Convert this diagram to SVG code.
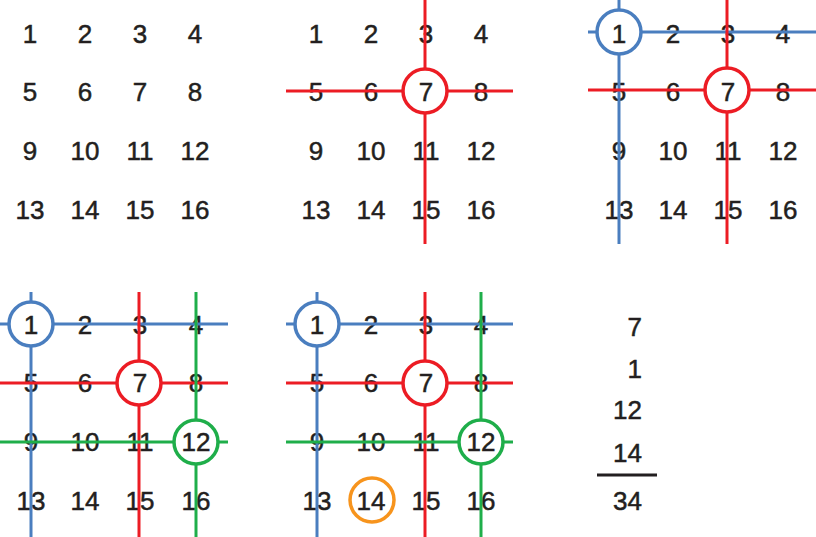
<svg xmlns="http://www.w3.org/2000/svg" width="816" height="537" viewBox="0 0 816 537">
<style>
text{font-family:"Liberation Sans",Arial,sans-serif;font-size:26px;fill:#231f20;stroke:#231f20;stroke-width:0.5;text-anchor:middle}
.b{stroke:#4a7ebf}.r{stroke:#ec1c24}.g{stroke:#1fae4a}.o{stroke:#f7941d}
line{stroke-width:3}
circle{fill:#fff;stroke-width:3.5}
.sum{text-anchor:end}
</style>
<rect width="816" height="537" fill="#fff"/>
<g id="grid1">
<text x="30" y="42.5">1</text><text x="85" y="42.5">2</text><text x="140" y="42.5">3</text><text x="195" y="42.5">4</text>
<text x="30" y="101.3">5</text><text x="85" y="101.3">6</text><text x="140" y="101.3">7</text><text x="195" y="101.3">8</text>
<text x="30" y="160">9</text><text x="85" y="160">10</text><text x="140" y="160">11</text><text x="195" y="160">12</text>
<text x="30" y="219">13</text><text x="85" y="219">14</text><text x="140" y="219">15</text><text x="195" y="219">16</text>
</g>
<g id="grid2">
<text x="316" y="42.5">1</text><text x="371" y="42.5">2</text><text x="426" y="42.5">3</text><text x="481" y="42.5">4</text>
<text x="316" y="101.3">5</text><text x="371" y="101.3">6</text><text x="481" y="101.3">8</text>
<text x="316" y="160">9</text><text x="371" y="160">10</text><text x="426" y="160">11</text><text x="481" y="160">12</text>
<text x="316" y="219">13</text><text x="371" y="219">14</text><text x="426" y="219">15</text><text x="481" y="219">16</text>
<g id="grid2-lines">
<line class="r" x1="286" y1="91" x2="513" y2="91"/><line class="r" x1="425" y1="0" x2="425" y2="244"/>
</g>
<g id="grid2-n7"><circle class="r" cx="425" cy="91" r="22"/><text x="426" y="101.3">7</text></g>
</g>
<g id="grid3">
<text x="673" y="42.5">2</text><text x="728" y="42.5">3</text><text x="783" y="42.5">4</text>
<text x="619" y="101.3">5</text><text x="673" y="101.3">6</text><text x="783" y="101.3">8</text>
<text x="619" y="160">9</text><text x="673" y="160">10</text><text x="728" y="160">11</text><text x="783" y="160">12</text>
<text x="619" y="219">13</text><text x="673" y="219">14</text><text x="728" y="219">15</text><text x="783" y="219">16</text>
<g id="grid3-lines">
<line class="b" x1="588" y1="32" x2="816" y2="32"/><line class="b" x1="619" y1="0" x2="619" y2="244"/>
<line class="r" x1="588" y1="90" x2="816" y2="90"/><line class="r" x1="727" y1="0" x2="727" y2="244"/>
</g>
<g id="grid3-n1"><circle class="b" cx="619" cy="32" r="22"/><text x="619" y="42.5">1</text></g>
<g id="grid3-n7"><circle class="r" cx="727" cy="90" r="22"/><text x="728" y="101.3">7</text></g>
</g>
<g id="grid4">
<text x="85" y="333.5">2</text><text x="140" y="333.5">3</text><text x="196" y="333.5">4</text>
<text x="31" y="392.3">5</text><text x="85" y="392.3">6</text><text x="196" y="392.3">8</text>
<text x="31" y="451">9</text><text x="85" y="451">10</text><text x="140" y="451">11</text>
<text x="31" y="510">13</text><text x="85" y="510">14</text><text x="140" y="510">15</text><text x="196" y="510">16</text>
<g id="grid4-lines">
<line class="b" x1="0" y1="324" x2="228" y2="324"/><line class="b" x1="31" y1="292" x2="31" y2="537"/>
<line class="r" x1="0" y1="383" x2="228" y2="383"/><line class="r" x1="139" y1="292" x2="139" y2="537"/>
<line class="g" x1="0" y1="442" x2="228" y2="442"/><line class="g" x1="196" y1="292" x2="196" y2="537"/>
</g>
<g id="grid4-n1"><circle class="b" cx="31" cy="324" r="22"/><text x="31" y="333.5">1</text></g>
<g id="grid4-n7"><circle class="r" cx="139" cy="383" r="22"/><text x="140" y="392.3">7</text></g>
<g id="grid4-n12"><circle class="g" cx="196" cy="442" r="22"/><text x="196" y="451">12</text></g>
</g>
<g id="grid5">
<text x="371" y="333.5">2</text><text x="426" y="333.5">3</text><text x="481" y="333.5">4</text>
<text x="317" y="392.3">5</text><text x="371" y="392.3">6</text><text x="481" y="392.3">8</text>
<text x="317" y="451">9</text><text x="371" y="451">10</text><text x="426" y="451">11</text>
<text x="317" y="510">13</text><text x="426" y="510">15</text><text x="481" y="510">16</text>
<g id="grid5-lines">
<line class="b" x1="286" y1="324" x2="513" y2="324"/><line class="b" x1="317" y1="292" x2="317" y2="537"/>
<line class="r" x1="286" y1="383" x2="513" y2="383"/><line class="r" x1="425" y1="292" x2="425" y2="537"/>
<line class="g" x1="286" y1="442" x2="513" y2="442"/><line class="g" x1="481" y1="292" x2="481" y2="537"/>
</g>
<g id="grid5-n1"><circle class="b" cx="317" cy="324" r="22"/><text x="317" y="333.5">1</text></g>
<g id="grid5-n7"><circle class="r" cx="425" cy="383" r="22"/><text x="426" y="392.3">7</text></g>
<g id="grid5-n12"><circle class="g" cx="481" cy="442" r="22"/><text x="481" y="451">12</text></g>
<g id="grid5-n14"><circle class="o" cx="372" cy="500" r="22"/><text x="371" y="510">14</text></g>
</g>
<g id="sum">
<text class="sum" x="642" y="336">7</text>
<text class="sum" x="642" y="378">1</text>
<text class="sum" x="642" y="419">12</text>
<text class="sum" x="642" y="462">14</text>
<line x1="597" y1="475" x2="657" y2="475" stroke="#231f20" stroke-width="1.5"/>
<text class="sum" x="642" y="510">34</text>
</g>
</svg>
